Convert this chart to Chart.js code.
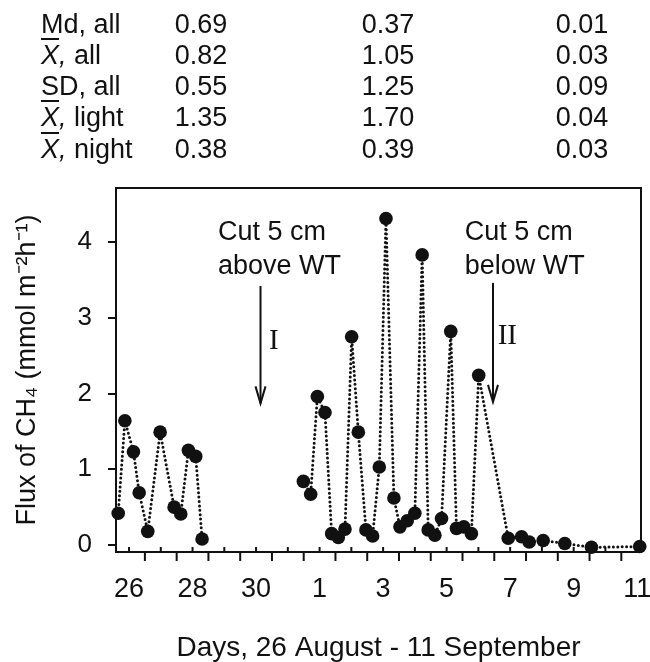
<!DOCTYPE html>
<html><head><meta charset="utf-8">
<script src="https://cdn.jsdelivr.net/npm/chart.js@4.4.0/dist/chart.umd.min.js"></script>
<style>
html,body{margin:0;padding:0;background:#fff;}
#wrap{position:relative;width:650px;height:662px;overflow:hidden;}
#c{position:absolute;left:0;top:0;}
.cell{position:absolute;font-family:'Liberation Sans',Arial,sans-serif;font-size:27px;color:#111;line-height:27px;white-space:nowrap;}
.xb{font-style:italic;text-decoration:overline;text-decoration-thickness:1.5px;}
</style></head>
<body><div id="wrap"><canvas id="c" width="650" height="662"></canvas><div id="table"></div></div>
<script>
// ---- data ----
const statNames = ['Md', 'X', 'SD', 'X', 'X'];
const statGroups = ['all', 'all', 'all', 'light', 'night'];
const statCol1 = [0.69, 0.82, 0.55, 1.35, 0.38];
const statCol2 = [0.37, 1.05, 1.25, 1.70, 0.39];
const statCol3 = [0.01, 0.03, 0.09, 0.04, 0.03];

// days since 26 August (0 = 26 Aug, 6 = 1 Sep)
const days = [-0.34, -0.13, 0.14, 0.32, 0.59, 0.98, 1.42, 1.63, 1.87, 2.10, 2.30,
  5.49, 5.72, 5.93, 6.17, 6.38, 6.59, 6.80, 7.01, 7.22, 7.46, 7.67, 7.88, 8.09, 8.34,
  8.53, 8.76, 9.00, 9.23, 9.42, 9.63, 9.84, 10.13, 10.31, 10.54, 10.78, 11.01,
  11.94, 12.36, 12.60, 13.04, 13.72, 14.56, 16.08];
const flux = [0.42, 1.64, 1.23, 0.69, 0.18, 1.49, 0.50, 0.41, 1.25, 1.17, 0.08,
  0.84, 0.67, 1.96, 1.75, 0.15, 0.10, 0.21, 2.75, 1.49, 0.20, 0.12, 1.03, 4.31, 0.62,
  0.24, 0.32, 0.42, 3.83, 0.20, 0.13, 0.35, 2.82, 0.22, 0.24, 0.15, 2.24,
  0.09, 0.11, 0.04, 0.06, 0.02, -0.03, -0.02];

const dayTickValues = [0, 2, 4, 6, 8, 10, 12, 14, 16];
const dayTickLabels = ['26', '28', '30', '1', '3', '5', '7', '9', '11'];
const fluxTickValues = [0, 1, 2, 3, 4];

const cutLabels = [['Cut 5 cm', 'above WT'], ['Cut 5 cm', 'below WT']];
const cutLabelDay = [2.80, 10.57];
const cutLabelFlux = [4.12, 3.68];
const arrowDay = [4.14, 11.46];
const arrowFromFlux = [3.42, 3.46];
const arrowToFlux = [1.87, 1.89];
const romanLabels = ['I', 'II'];
const romanDay = [4.56, 11.91];
const romanFlux = [2.69, 2.76];

// ---- table ----
const tbl = document.getElementById('table');
const rowCenters = [24, 55.5, 86.5, 117.5, 149];
const colCenters = [201, 388, 582];
statNames.forEach((n, i) => {
  const top = rowCenters[i] - 13.5;
  const lab = document.createElement('div');
  lab.className = 'cell';
  lab.style.left = '41px'; lab.style.top = top + 'px';
  lab.innerHTML = (n === 'X' ? '<span class="xb">X</span><i>,</i>' : n + ',') + ' ' + statGroups[i];
  tbl.appendChild(lab);
  [statCol1, statCol2, statCol3].forEach((col, j) => {
    const d = document.createElement('div');
    d.className = 'cell';
    d.textContent = col[i].toFixed(2);
    d.style.top = top + 'px';
    d.style.left = colCenters[j] + 'px';
    d.style.transform = 'translateX(-50%)';
    tbl.appendChild(d);
  });
});

// ---- chart ----
const pts = [];
days.forEach((d, i) => {
  if (i > 0 && d - days[i - 1] > 2) pts.push({x: (d + days[i - 1]) / 2, y: null});
  pts.push({x: d, y: flux[i]});
});

const INK = '#111';
Chart.defaults.font.family = "'Liberation Sans', Arial, sans-serif";
Chart.defaults.color = INK;

const framePlugin = {
  id: 'frame',
  afterDraw(chart) {
    const {ctx, chartArea: a, scales: {x}} = chart;
    ctx.save();
    ctx.strokeStyle = INK; ctx.lineWidth = 2;
    ctx.strokeRect(a.left, a.top, a.right - a.left, a.bottom - a.top);
    ctx.beginPath();
    for (let d = Math.ceil(x.min); d <= x.max; d++) {
      const px = x.getPixelForValue(d);
      ctx.moveTo(px, a.bottom); ctx.lineTo(px, a.bottom - 5);
    }
    for (let d = Math.ceil(x.min - 0.5) + 0.5; d <= x.max; d++) {
      const px = x.getPixelForValue(d);
      ctx.moveTo(px, a.bottom); ctx.lineTo(px, a.bottom + 9);
    }
    ctx.stroke();
    ctx.restore();
  }
};

const annPlugin = {
  id: 'ann',
  afterDatasetsDraw(chart) {
    const {ctx, scales: {x, y}} = chart;
    ctx.save();
    ctx.fillStyle = INK; ctx.strokeStyle = INK;
    ctx.font = "27px 'Liberation Sans', Arial, sans-serif";
    ctx.textAlign = 'left'; ctx.textBaseline = 'middle';
    cutLabels.forEach((lines, i) => {
      const lx = x.getPixelForValue(cutLabelDay[i]);
      const y0 = y.getPixelForValue(cutLabelFlux[0]);
      const y1 = y.getPixelForValue(cutLabelFlux[1]);
      ctx.fillText(lines[0], lx, y0);
      ctx.fillText(lines[1], lx, y1);
    });
    ctx.lineWidth = 2;
    arrowDay.forEach((d, i) => {
      const ax = x.getPixelForValue(d);
      const ya = y.getPixelForValue(arrowFromFlux[i]);
      const yb = y.getPixelForValue(arrowToFlux[i]);
      ctx.beginPath(); ctx.moveTo(ax, ya); ctx.lineTo(ax, yb); ctx.stroke();
      ctx.beginPath(); ctx.moveTo(ax - 5, yb - 17); ctx.lineTo(ax, yb); ctx.lineTo(ax + 5, yb - 17); ctx.stroke();
    });
    ctx.font = "29px 'Liberation Serif', 'Times New Roman', serif";
    ctx.textAlign = 'center';
    romanLabels.forEach((t, i) => {
      ctx.fillText(t, x.getPixelForValue(romanDay[i]), y.getPixelForValue(romanFlux[i]));
    });
    ctx.restore();
  }
};

new Chart(document.getElementById('c'), {
  type: 'scatter',
  data: {datasets: [{
    data: pts, showLine: true, spanGaps: false, clip: false,
    borderColor: INK, borderWidth: 3, borderDash: [0, 4.4], borderCapStyle: 'round',
    pointRadius: 6.8, pointHoverRadius: 6.8, pointBackgroundColor: INK, pointBorderWidth: 0
  }]},
  options: {
    responsive: false, animation: false, events: [],
    layout: {padding: {top: 188, right: 9, left: 0, bottom: 0}},
    plugins: {legend: {display: false}, tooltip: {enabled: false}},
    scales: {
      x: {
        type: 'linear', min: -0.41, max: 16.12,
        afterBuildTicks: s => { s.ticks = dayTickValues.map(v => ({value: v})); },
        ticks: {callback: v => dayTickLabels[dayTickValues.indexOf(v)], padding: 21,
          font: {size: 27}, color: INK, autoSkip: false, maxRotation: 0},
        grid: {display: false, drawTicks: false},
        border: {display: false},
        title: {display: true, text: 'Days, 26 August - 11 September', color: INK,
          font: {size: 28, lineHeight: 1}, padding: {top: 0, bottom: 0}},
        afterFit: s => { s.height = 110; s.paddingLeft = 0; s.paddingRight = 0; }
      },
      y: {
        type: 'linear', min: -0.092, max: 4.713,
        afterBuildTicks: s => { s.ticks = fluxTickValues.map(v => ({value: v})); },
        ticks: {padding: 16, font: {size: 26}, color: INK},
        grid: {display: true, drawOnChartArea: false, drawTicks: true, tickLength: 8, color: INK, lineWidth: 2},
        border: {display: true, color: INK, width: 2},
        title: {display: true, text: 'Flux of CH\u2084 (mmol m\u207B\u00B2h\u207B\u00B9)', color: INK,
          font: {size: 27, lineHeight: 1.2}, padding: {top: 11, bottom: 0}},
        afterFit: s => { s.width = 116; s.paddingTop = 0; s.paddingBottom = 0; }
      }
    }
  },
  plugins: [framePlugin, annPlugin]
});
</script>
</body></html>
